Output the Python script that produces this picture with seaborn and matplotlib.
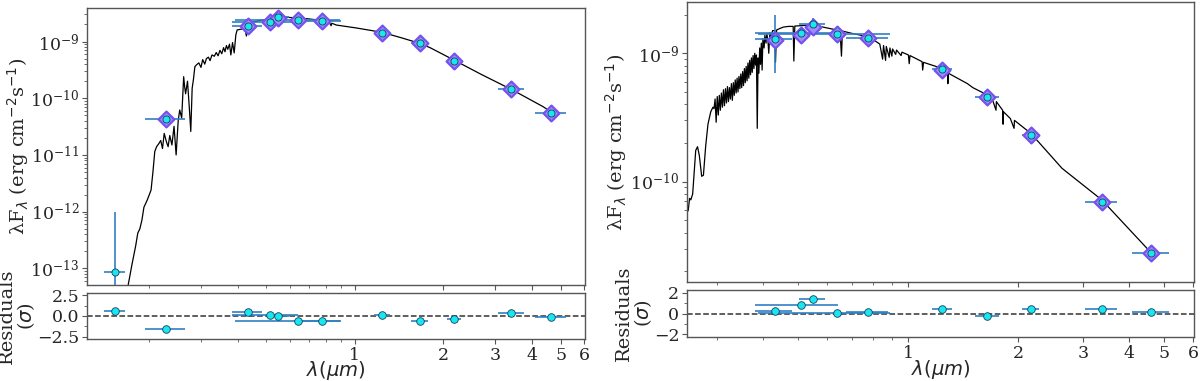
import numpy as np
import matplotlib
matplotlib.use("Agg")
import matplotlib.pyplot as plt
from matplotlib.ticker import FixedLocator, FixedFormatter, NullFormatter, AutoMinorLocator
import seaborn as sns

# --- Panel izquierdo (estrella A) ---
WL_A = [0.153, 0.229, 0.433, 0.513, 0.550, 0.642, 0.776, 1.24, 1.66, 2.17, 3.40, 4.65]
WL_ERR_A = [0.012, 0.036, 0.05, 0.13, 0.045, 0.25, 0.12, 0.08, 0.11, 0.12, 0.34, 0.55]
FLUX_A = [8.7e-14, 4.26e-11, 1.89e-9, 2.25e-9, 2.69e-9, 2.35e-9, 2.30e-9, 1.42e-9, 9.3e-10, 4.6e-10, 1.44e-10, 5.6e-11]
FLUX_LO_A = [8.6e-14, 4e-12, 2.5e-10, 1e-10, 1e-10, 5e-11, 5e-11, 3e-11, 2e-11, 1e-11, 3e-12, 1e-12]
FLUX_HI_A = [9.1e-13, 4e-12, 2.5e-10, 1e-10, 1e-10, 5e-11, 5e-11, 3e-11, 2e-11, 1e-11, 3e-12, 1e-12]
MODEL_PHOT_A = [np.nan, 4.3e-11, 1.85e-9, 2.25e-9, 2.65e-9, 2.35e-9, 2.30e-9, 1.42e-9, 9.3e-10, 4.6e-10, 1.44e-10, 5.6e-11]
RESID_A = [0.57, -1.55, 0.49, 0.08, 0.04, -0.60, -0.57, 0.16, -0.60, -0.37, 0.33, -0.12]

SPEC_WL_A = [0.169, 0.175, 0.180, 0.183, 0.186, 0.189, 0.192, 0.197, 0.203, 0.206, 0.209, 0.212,
             0.216, 0.219, 0.222, 0.225, 0.229, 0.232, 0.235, 0.239, 0.243, 0.247, 0.251, 0.254,
             0.258, 0.262, 0.264, 0.266, 0.270, 0.274, 0.277, 0.280, 0.283, 0.286, 0.290, 0.295,
             0.300, 0.304, 0.309, 0.313, 0.318, 0.322, 0.327, 0.333, 0.338, 0.343, 0.348, 0.353,
             0.358, 0.362, 0.366, 0.370, 0.375, 0.379, 0.384, 0.389, 0.394, 0.398, 0.410, 0.423,
             0.428, 0.432, 0.440, 0.449, 0.475, 0.506, 0.540, 0.570, 0.642, 0.700, 0.769, 0.820,
             0.830, 0.835, 0.866, 1.007, 1.24, 1.45, 1.66, 1.80, 2.19, 2.70, 3.43, 4.36, 4.69]
SPEC_FLUX_A = [4.5e-14, 1.2e-13, 2.5e-13, 4.2e-13, 5.0e-13, 7.1e-13, 1.2e-12, 1.6e-12, 2.4e-12, 5.0e-12, 1.15e-11, 1.4e-11,
               1.6e-11, 1.8e-11, 1.3e-11, 2.4e-11, 1.7e-11, 1.4e-11, 2.2e-11, 1.5e-11, 3.2e-11, 1.0e-11, 4.0e-11, 6.2e-11,
               4.5e-11, 2.4e-10, 1.6e-10, 1.2e-10, 2.0e-10, 6.5e-11, 2.6e-11, 1.5e-10, 2.2e-10, 3.6e-10, 3.9e-10, 4.2e-10,
               3.5e-10, 4.8e-10, 4.0e-10, 5.0e-10, 5.3e-10, 4.6e-10, 5.8e-10, 5.5e-10, 6.4e-10, 5.6e-10, 7.0e-10, 6.1e-10,
               7.8e-10, 6.6e-10, 8.5e-10, 7.3e-10, 9.0e-10, 5.8e-10, 9.6e-10, 6.3e-10, 1.3e-9, 1.6e-9, 1.65e-9, 1.7e-9,
               1.25e-9, 1.8e-9, 2.0e-9, 2.2e-9, 2.35e-9, 2.45e-9, 2.6e-9, 2.7e-9, 2.6e-9, 2.5e-9, 2.35e-9, 2.15e-9,
               1.9e-9, 2.1e-9, 1.95e-9, 1.74e-9, 1.45e-9, 1.15e-9, 9.3e-10, 7.8e-10, 4.6e-10, 2.6e-10, 1.4e-10, 7.1e-11, 5.5e-11]

# --- Panel derecho (estrella B) ---
WL_B = [0.431, 0.510, 0.547, 0.639, 0.777, 1.239, 1.645, 2.16, 3.38, 4.62]
WL_ERR_B = [0.05, 0.13, 0.044, 0.25, 0.10, 0.08, 0.12, 0.12, 0.33, 0.53]
FLUX_B = [1.285e-9, 1.43e-9, 1.69e-9, 1.42e-9, 1.32e-9, 7.5e-10, 4.54e-10, 2.32e-10, 6.98e-11, 2.77e-11]
FLUX_LO_B = [5.85e-10, 4e-11, 1.7e-10, 3e-11, 3e-11, 1.5e-11, 1e-11, 5e-12, 1.5e-12, 5e-13]
FLUX_HI_B = [7.15e-10, 4e-11, 1.8e-10, 3e-11, 3e-11, 1.5e-11, 1e-11, 5e-12, 1.5e-12, 5e-13]
MODEL_PHOT_B = [1.26e-9, 1.40e-9, 1.60e-9, 1.41e-9, 1.31e-9, 7.45e-10, 4.56e-10, 2.30e-10, 6.95e-11, 2.76e-11]
RESID_B = [0.27, 0.82, 1.42, 0.09, 0.18, 0.39, -0.24, 0.45, 0.39, 0.18]

SPEC_WL_B = [0.248, 0.250, 0.252, 0.254, 0.257, 0.262, 0.265, 0.268, 0.272, 0.275, 0.279, 0.283,
             0.288, 0.292, 0.294,
             0.296, 0.298, 0.300, 0.302, 0.304, 0.306, 0.308, 0.310, 0.312, 0.314, 0.316, 0.318,
             0.320, 0.322, 0.324, 0.326, 0.328, 0.330, 0.332, 0.334, 0.336, 0.338, 0.340, 0.342,
             0.344, 0.346, 0.348, 0.350, 0.352, 0.354, 0.356, 0.358, 0.360, 0.362, 0.364, 0.366,
             0.368, 0.370, 0.372, 0.374, 0.376, 0.378, 0.380, 0.382, 0.384, 0.386, 0.388, 0.390,
             0.392, 0.394, 0.396, 0.398, 0.400, 0.403, 0.405, 0.408, 0.410, 0.413, 0.415, 0.418,
             0.421, 0.425, 0.431, 0.433, 0.436, 0.445, 0.455, 0.470, 0.484, 0.486,
             0.489, 0.505, 0.525, 0.550, 0.578, 0.610, 0.650, 0.656, 0.660, 0.700, 0.771, 0.810,
             0.835, 0.850, 0.855, 0.866, 0.870, 0.886, 0.890, 0.901, 0.905, 0.923, 0.928, 0.955,
             0.960, 1.000, 1.005, 1.010, 1.090, 1.094, 1.100, 1.239, 1.280, 1.282, 1.285, 1.450,
             1.500, 1.645, 1.700, 1.736, 1.740, 1.810, 1.815, 1.820, 1.900, 1.945, 1.950, 2.160,
             2.166, 2.170, 2.630, 3.380, 4.000, 4.620]
SPEC_FLUX_B = [5.7e-11, 6.0e-11, 7.4e-11, 7.2e-11, 8.0e-11, 1.75e-10, 1.87e-10, 1.6e-10, 1.1e-10, 1.12e-10, 1.9e-10, 2.8e-10,
               3.5e-10, 3.8e-10, 3.7e-10,
               4.4e-10, 2.9e-10, 4.6e-10, 3.3e-10, 4.7e-10, 3.6e-10, 4.9e-10, 3.8e-10, 5.2e-10, 3.9e-10, 5.3e-10, 4.1e-10,
               5.5e-10, 4.2e-10, 5.4e-10, 4.4e-10, 5.8e-10, 4.3e-10, 5.9e-10, 4.7e-10, 6.2e-10, 4.9e-10, 6.4e-10, 5.0e-10,
               6.6e-10, 5.3e-10, 6.9e-10, 5.4e-10, 7.2e-10, 5.6e-10, 7.6e-10, 5.9e-10, 7.9e-10, 6.1e-10, 8.4e-10, 6.4e-10,
               8.8e-10, 6.8e-10, 9.2e-10, 7.1e-10, 9.6e-10, 7.6e-10, 1.0e-9, 8.1e-10, 9.7e-10, 2.6e-10, 9.2e-10, 7.0e-10,
               1.1e-9, 8.2e-10, 1.2e-9, 7.4e-10, 1.3e-9, 1.1e-9, 1.38e-9, 1.2e-9, 1.42e-9, 1.25e-9, 1.0e-9, 1.45e-9,
               1.3e-9, 1.5e-9, 1.5e-9, 8.5e-10, 1.52e-9, 1.56e-9, 1.6e-9, 1.62e-9, 1.62e-9, 8.7e-10,
               1.63e-9, 1.64e-9, 1.65e-9, 1.64e-9, 1.61e-9, 1.56e-9, 1.5e-9, 9.5e-10, 1.49e-9, 1.43e-9, 1.35e-9, 1.25e-9,
               1.18e-9, 9.0e-10, 1.15e-9, 8.8e-10, 1.13e-9, 9.3e-10, 1.1e-9, 9.5e-10, 1.08e-9, 9.8e-10, 1.06e-9, 9.6e-10,
               1.02e-9, 9.7e-10, 8.3e-10, 9.6e-10, 8.6e-10, 7.4e-10, 8.5e-10, 7.6e-10, 7.1e-10, 5.8e-10, 7.0e-10, 5.8e-10,
               5.4e-10, 4.73e-10, 4.3e-10, 3.6e-10, 4.2e-10, 3.6e-10, 2.8e-10, 3.5e-10, 3.1e-10, 2.6e-10, 3.0e-10, 2.38e-10,
               2.0e-10, 2.35e-10, 1.27e-10, 7.2e-11, 4.3e-11, 2.77e-11]

ERR_COLOR = '#2f7fc1'
DIAMOND_FACE = '#9d8df4'
DIAMOND_EDGE = '#7452f0'
TICK_SIZE = 12.5
LABEL_SIZE = 14


def draw_panel(fig, rect_main, rect_res, spec_wl, spec_flux, wl, wl_err, flux, flux_lo, flux_hi,
               model_phot, resid, xlim, ylim, rlim, rticks, rticklabels, label_x):
    ax = fig.add_axes(rect_main)
    axr = fig.add_axes(rect_res)

    # espectro del modelo
    sns.lineplot(x=spec_wl, y=spec_flux, ax=ax, color='k', lw=0.9, sort=False, estimator=None, zorder=1)
    # barras de error de la fotometria
    ax.errorbar(wl, flux, xerr=wl_err, yerr=[flux_lo, flux_hi], fmt='none',
                ecolor=ERR_COLOR, elinewidth=1.4, alpha=0.85, zorder=2)
    # fotometria sintetica (modelo)
    sns.scatterplot(x=wl, y=model_phot, ax=ax, marker='D', s=65, color=DIAMOND_FACE,
                    edgecolor=DIAMOND_EDGE, linewidth=1.6, zorder=3)
    # datos observados
    sns.scatterplot(x=wl, y=flux, ax=ax, marker='o', s=26, color='#19e6f0',
                    edgecolor='#15405a', linewidth=0.6, zorder=4)

    ax.set_xscale('log')
    ax.set_yscale('log')
    ax.set_xlim(*xlim)
    ax.set_ylim(*ylim)
    ax.set_ylabel('λF$_\\lambda$ (erg cm$^{-2}$s$^{-1}$)', fontsize=LABEL_SIZE)
    ax.yaxis.set_label_coords(label_x[0], 0.5)

    # --- residuos ---
    axr.axhline(0, ls='--', color='#333333', lw=1.1, zorder=1)
    axr.errorbar(wl, resid, xerr=wl_err, fmt='none', ecolor=ERR_COLOR,
                 elinewidth=1.4, alpha=0.85, zorder=2)
    sns.scatterplot(x=wl, y=resid, ax=axr, marker='o', s=30, color='#19e6f0',
                    edgecolor='#15405a', linewidth=0.6, zorder=3)
    axr.set_xscale('log')
    axr.set_xlim(*xlim)
    axr.set_ylim(*rlim)
    axr.set_yticks(rticks)
    axr.set_yticklabels(rticklabels)
    axr.yaxis.set_minor_locator(AutoMinorLocator(2))
    axr.set_ylabel('Residuals\n($\\sigma$)', fontsize=LABEL_SIZE, linespacing=0.95)
    axr.yaxis.set_label_coords(label_x[1], 0.5)
    axr.set_xlabel('$\\lambda (\\mu m)$', fontsize=LABEL_SIZE)
    axr.xaxis.set_label_coords(0.5, label_x[2])

    for a in (ax, axr):
        a.xaxis.set_major_locator(FixedLocator([1, 2, 3, 4, 5, 6]))
        a.xaxis.set_major_formatter(FixedFormatter(['1', '2', '3', '4', '5', '6']))
        a.xaxis.set_minor_locator(FixedLocator([0.2, 0.3, 0.4, 0.5, 0.6, 0.7, 0.8, 0.9]))
        a.xaxis.set_minor_formatter(NullFormatter())
        a.tick_params(which='major', labelsize=TICK_SIZE, length=3.5, width=0.8,
                      color='#555555', pad=2)
        a.tick_params(which='minor', length=2, width=0.6, color='#555555')
        for sp in a.spines.values():
            sp.set_color('#555555')
            sp.set_linewidth(1.0)
            sp.set_visible(True)
    ax.yaxis.set_minor_formatter(NullFormatter())
    ax.tick_params(labelbottom=False)
    return ax, axr


def main():
    sns.set_style('ticks')
    plt.rcParams['font.family'] = ['DejaVu Serif']
    plt.rcParams['mathtext.fontset'] = 'dejavusans'

    W, H = 1200, 381
    fig = plt.figure(figsize=(W / 100, H / 100), dpi=100)

    def rect(x0, y0, x1, y1):
        return [x0 / W, 1 - y1 / H, (x1 - x0) / W, (y1 - y0) / H]

    draw_panel(fig, rect(87, 8, 585, 285), rect(87, 293, 585, 339),
               SPEC_WL_A, SPEC_FLUX_A, WL_A, WL_ERR_A, FLUX_A, FLUX_LO_A, FLUX_HI_A,
               MODEL_PHOT_A, RESID_A, (0.123, 6.05), (5.1e-14, 3.9e-9), (-2.75, 2.75),
               [-2.5, 0.0, 2.5], ['\u22122.5', '0.0', '2.5'], (-0.112, -0.10, -0.44))
    draw_panel(fig, rect(687, 2, 1194, 282), rect(687, 290, 1194, 337),
               SPEC_WL_B, SPEC_FLUX_B, WL_B, WL_ERR_B, FLUX_B, FLUX_LO_B, FLUX_HI_B,
               MODEL_PHOT_B, RESID_B, (0.248, 6.04), (1.65e-11, 2.51e-9), (-2.25, 2.25),
               [-2, 0, 2], ['\u22122', '0', '2'], (-0.114, -0.065, -0.45))

    fig.savefig('out.png', dpi=100)


if __name__ == '__main__':
    main()
